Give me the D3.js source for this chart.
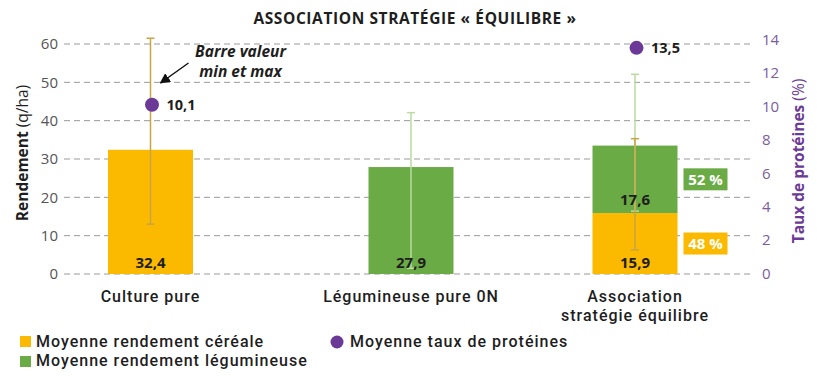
<!DOCTYPE html>
<html>
<head>
<meta charset="utf-8">
<script src="https://cdn.jsdelivr.net/npm/d3@7/dist/d3.min.js"></script>
<style>
  html, body { margin: 0; padding: 0; background: #fff; }
  svg { display: block; font-family: "Open Sans", sans-serif; }
</style>
</head>
<body>
<svg id="chart" width="817" height="382"></svg>
<script>
// ---- data ----
const categories = ["Culture pure", "Légumineuse pure 0N", "Association stratégie équilibre"];
const categoryLines = [["Culture pure"], ["Légumineuse pure 0N"], ["Association", "stratégie équilibre"]];
const cerealYield = [32.4, 0, 15.9];
const legumeYield = [0, 27.9, 17.6];
const proteinRate = [10.1, null, 13.5];
const cerealMinMax = [[13.0, 61.5], null, [6.3, 35.3]];
const legumeMinMax = [null, [1.5, 42.1], [16.4, 52.1]];
const cerealShare = [null, null, 48];
const legumeShare = [null, null, 52];
const leftTicks = [0, 10, 20, 30, 40, 50, 60];
const rightTicks = [0, 2, 4, 6, 8, 10, 12, 14];

const fmt = v => d3.format(".1f")(v).replace(".", ",");

// ---- layout ----
const svg = d3.select("#chart");
const C = { yellow: "#FBBA00", green: "#6AAB46", purple: "#6B3A96",
            cerealWhisker: "#C9A444", legumeWhisker: "#B9DBA0",
            grid: "#9a9a9a", text: "#1e1e1e" };
const plotLeft = 64, plotRight = 750;
const barW = 85;
const x = d3.scaleOrdinal().domain(categories).range([150.5, 411, 635]);
const yL = d3.scaleLinear().domain([0, 60]).range([274, 44]);
const yR = d3.scaleLinear().domain([0, 14]).range([273.5, 39.5]);

// title
svg.append("text").attr("x", 415).attr("y", 24).attr("text-anchor", "middle")
  .attr("font-size", 15.5).attr("font-weight", 700).attr("letter-spacing", 0.6).attr("fill", C.text)
  .text("ASSOCIATION STRATÉGIE « ÉQUILIBRE »");

// gridlines
svg.append("g").selectAll("line").data(leftTicks).join("line")
  .attr("x1", plotLeft).attr("x2", plotRight)
  .attr("y1", d => yL(d)).attr("y2", d => yL(d))
  .attr("stroke", C.grid).attr("stroke-width", 1).attr("stroke-dasharray", "6,4");

// left axis
const axL = svg.append("g").attr("transform", `translate(${plotLeft - 4},0)`)
  .call(d3.axisLeft(yL).tickValues(leftTicks).tickSize(0).tickPadding(2));
axL.select(".domain").remove();
axL.selectAll("text").attr("font-family", "Open Sans").attr("font-size", 15)
  .attr("fill", "#555").attr("font-weight", 400);

// right axis
const axR = svg.append("g").attr("transform", `translate(${plotRight + 12},0)`)
  .call(d3.axisRight(yR).tickValues(rightTicks).tickSize(0).tickPadding(0));
axR.select(".domain").remove();
axR.selectAll("text").attr("font-family", "Open Sans").attr("font-size", 15)
  .attr("fill", "#7B5C9C").attr("font-weight", 400);

// axis titles
const tL = svg.append("text").attr("transform", "translate(28,153) rotate(-90)")
  .attr("text-anchor", "middle").attr("font-size", 15.5).attr("fill", C.text);
tL.append("tspan").attr("font-weight", 700).text("Rendement ");
tL.append("tspan").attr("font-weight", 400).text("(q/ha)");
const tR = svg.append("text").attr("transform", "translate(804,161) rotate(-90)")
  .attr("text-anchor", "middle").attr("font-size", 15.5).attr("fill", C.purple);
tR.append("tspan").attr("font-weight", 700).text("Taux de protéines ");
tR.append("tspan").attr("font-weight", 400).text("(%)");

// bars
const rows = categories.map((c, i) => ({ c, i, cer: cerealYield[i], leg: legumeYield[i] }));
const gBars = svg.append("g");
gBars.selectAll("rect.cer").data(rows.filter(d => d.cer > 0)).join("rect")
  .attr("x", d => x(d.c) - barW / 2).attr("width", barW)
  .attr("y", d => yL(d.cer)).attr("height", d => yL(0) - yL(d.cer))
  .attr("fill", C.yellow);
gBars.selectAll("rect.leg").data(rows.filter(d => d.leg > 0)).join("rect")
  .attr("x", d => x(d.c) - barW / 2).attr("width", barW)
  .attr("y", d => yL(d.cer + d.leg)).attr("height", d => yL(d.cer) - yL(d.cer + d.leg))
  .attr("fill", C.green);

// whiskers
function whisker(range, color, cap) {
  const data = categories.map((c, i) => ({ c, r: range[i] })).filter(d => d.r);
  const g = svg.append("g").attr("stroke", color).attr("stroke-width", 1.5);
  g.selectAll("line.v").data(data).join("line")
    .attr("x1", d => x(d.c)).attr("x2", d => x(d.c))
    .attr("y1", d => yL(d.r[0])).attr("y2", d => yL(d.r[1]));
  ["0", "1"].forEach(k => {
    g.selectAll("line.c" + k).data(data).join("line")
      .attr("x1", d => x(d.c) - cap).attr("x2", d => x(d.c) + cap)
      .attr("y1", d => yL(d.r[+k])).attr("y2", d => yL(d.r[+k]));
  });
}
whisker(legumeMinMax, C.legumeWhisker, 4);
whisker(cerealMinMax, C.cerealWhisker, 4);

// value labels
const lab = svg.append("g").attr("font-size", 15).attr("font-weight", 700)
  .attr("fill", C.text).attr("text-anchor", "middle");
rows.forEach(d => {
  if (d.cer > 0 && d.leg > 0) {
    lab.append("text").attr("x", x(d.c)).attr("y", yL(0) - 6).text(fmt(d.cer));
    lab.append("text").attr("x", x(d.c)).attr("y", yL(d.cer) - 8).text(fmt(d.leg));
  } else {
    lab.append("text").attr("x", x(d.c)).attr("y", yL(0) - 6).text(fmt(d.cer + d.leg));
  }
});

// share boxes
rows.forEach(d => {
  if (cerealShare[d.i] == null) return;
  const bx = x(d.c) + barW / 2 + 6;
  [[cerealShare[d.i], C.yellow, yL(d.cer / 2)], [legumeShare[d.i], C.green, yL(d.cer + d.leg / 2)]]
    .forEach(([v, col, cy]) => {
      svg.append("rect").attr("x", bx).attr("y", cy - 11).attr("width", 44).attr("height", 22).attr("fill", col);
      svg.append("text").attr("x", bx + 22).attr("y", cy + 5.5).attr("text-anchor", "middle")
        .attr("font-size", 15).attr("font-weight", 700).attr("fill", "#fff").text(v + " %");
    });
});

// protein dots
const pData = categories.map((c, i) => ({ c, v: proteinRate[i] })).filter(d => d.v != null);
svg.append("g").selectAll("circle").data(pData).join("circle")
  .attr("cx", d => x(d.c) + 1.5).attr("cy", d => yR(d.v)).attr("r", 7).attr("fill", C.purple);
svg.append("g").selectAll("text").data(pData).join("text")
  .attr("x", d => x(d.c) + 16).attr("y", d => yR(d.v) + 5)
  .attr("font-size", 14.5).attr("font-weight", 700).attr("fill", C.text)
  .text(d => fmt(d.v));

// annotation
const ax0 = x(categories[0]);
svg.append("defs").append("marker").attr("id", "arr").attr("viewBox", "0 0 10 10")
  .attr("refX", 9).attr("refY", 5).attr("markerWidth", 7).attr("markerHeight", 7)
  .attr("orient", "auto").append("path").attr("d", "M0,0 L10,5 L0,10 Z").attr("fill", "#111");
svg.append("line").attr("x1", ax0 + 38).attr("y1", 63).attr("x2", ax0 + 10).attr("y2", 83)
  .attr("stroke", "#111").attr("stroke-width", 1.5).attr("marker-end", "url(#arr)");
const ann = svg.append("text").attr("text-anchor", "middle").attr("font-size", 15.5)
  .attr("font-weight", 700).attr("font-style", "italic").attr("fill", C.text);
ann.append("tspan").attr("x", ax0 + 90).attr("y", 57).text("Barre valeur");
ann.append("tspan").attr("x", ax0 + 90).attr("y", 77).text("min et max");

// category labels (Roboto: tighter line box so stacked lines don't collide)
categoryLines.forEach((lines, i) => {
  lines.forEach((l, j) => svg.append("text").attr("text-anchor", "middle")
    .attr("font-family", "Roboto").attr("font-size", 16)
    .attr("font-weight", 500).attr("letter-spacing", 1.0).attr("fill", C.text)
    .attr("x", x(categories[i])).attr("y", 302 + j * 19).text(l));
});

// legend
const lg = svg.append("g").attr("font-family", "Roboto").attr("font-size", 16).attr("font-weight", 500)
  .attr("letter-spacing", 1.0).attr("fill", C.text);
lg.append("rect").attr("x", 20).attr("y", 336).attr("width", 11).attr("height", 11).attr("fill", C.yellow);
lg.append("text").attr("x", 36).attr("y", 347).text("Moyenne rendement céréale");
lg.append("rect").attr("x", 20).attr("y", 356).attr("width", 11).attr("height", 11).attr("fill", C.green);
lg.append("text").attr("x", 36).attr("y", 366).text("Moyenne rendement légumineuse");
lg.append("circle").attr("cx", 337).attr("cy", 342).attr("r", 6.5).attr("fill", C.purple);
lg.append("text").attr("x", 350).attr("y", 347).text("Moyenne taux de protéines");
</script>
</body>
</html>
